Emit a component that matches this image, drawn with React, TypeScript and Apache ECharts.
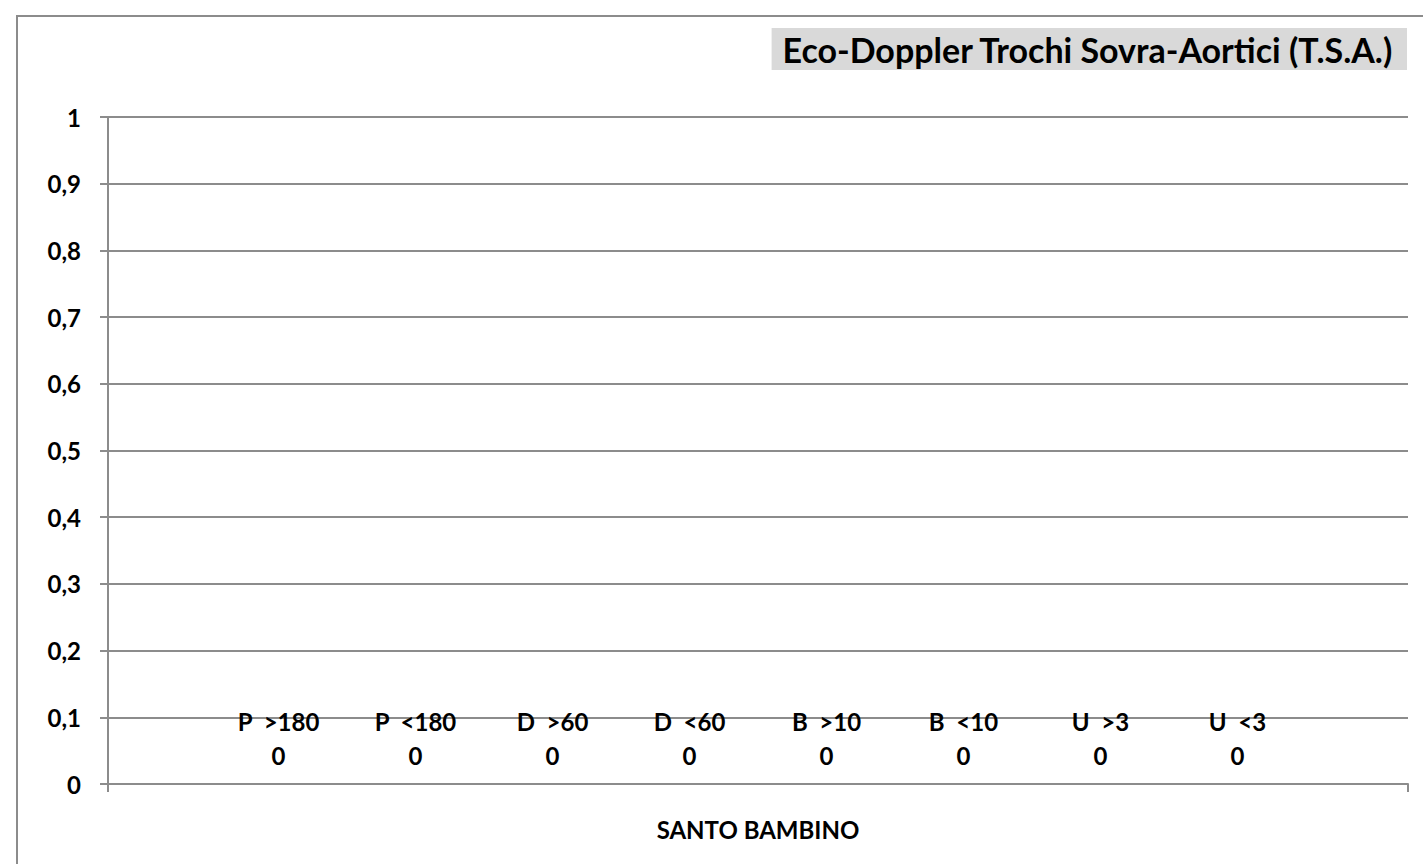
import React, { useEffect, useRef } from "react";
import * as echarts from "echarts";

const categories = ["SANTO BAMBINO"];
const seriesNames = ["P  >180", "P  <180", "D  >60", "D  <60", "B  >10", "B  <10", "U  >3", "U  <3"];
const seriesValues = [[0], [0], [0], [0], [0], [0], [0], [0]];
const titleText = "Eco-Doppler Trochi Sovra-Aortici (T.S.A.)";

const FONT = "Lato, 'Open Sans', sans-serif";
const GRAY = "#8c8c8c";

export default function App() {
  const ref = useRef<HTMLDivElement>(null);
  useEffect(() => {
    const chart = echarts.init(ref.current!, null, { renderer: "svg" });
    chart.setOption({
      animation: false,
      backgroundColor: "#ffffff",
      title: {
        text: titleText,
        right: 16,
        top: 28,
        backgroundColor: "#d9d9d9",
        padding: [4, 13, 4, 11],
        textStyle: { fontFamily: FONT, fontSize: 34, fontWeight: "bold", color: "#000" },
      },
      graphic: [
        {
          type: "rect",
          shape: { x: 17, y: 16, width: 1500, height: 900 },
          style: { fill: "none", stroke: GRAY, lineWidth: 2 },
          silent: true,
        },
      ],
      grid: { left: 108, right: 15, top: 117, bottom: 80, containLabel: false },
      xAxis: {
        type: "category",
        data: categories,
        axisLine: { lineStyle: { color: GRAY, width: 2 } },
        axisTick: { show: true, length: 8, lineStyle: { color: GRAY, width: 2 } },
        axisLabel: {
          margin: 33,
          fontFamily: FONT,
          fontSize: 24,
          fontWeight: "bold",
          color: "#000",
        },
      },
      yAxis: {
        type: "value",
        min: 0,
        max: 1,
        interval: 0.1,
        axisLine: { show: true, lineStyle: { color: GRAY, width: 2 } },
        axisTick: { show: true, length: 8, lineStyle: { color: GRAY, width: 2 } },
        splitLine: { show: true, lineStyle: { color: GRAY, width: 2 } },
        axisLabel: {
          margin: 27,
          fontFamily: FONT,
          fontSize: 24,
          fontWeight: "bold",
          color: "#000",
          formatter: (v: number) => String(Math.round(v * 10) / 10).replace(".", ","),
        },
      },
      series: seriesNames.map((name, i) => ({
        type: "bar",
        name,
        data: seriesValues[i],
        barGap: "0%",
        barCategoryGap: "15.7%",
        label: {
          show: true,
          position: "top",
          distance: 12,
          formatter: "{a}\n{c}",
          fontFamily: FONT,
          fontSize: 24,
          fontWeight: "bold",
          color: "#000",
          lineHeight: 34,
        },
      })),
    });
    return () => chart.dispose();
  }, []);
  return (
    <div
      ref={ref}
      style={{ position: "absolute", left: 0, top: 0, width: 1423, height: 864 }}
    />
  );
}
